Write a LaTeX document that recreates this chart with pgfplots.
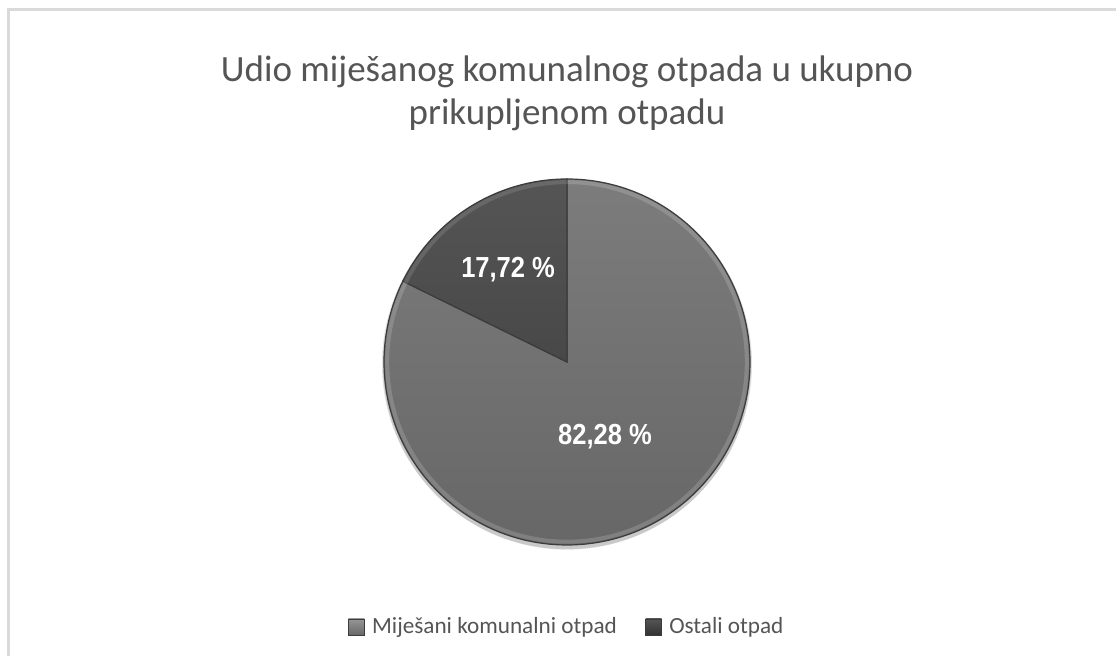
\documentclass[border=0pt]{standalone}
\usepackage{pgfplots}
\usepackage{pgfplotstable}
\pgfplotsset{compat=1.18}
\usepackage{fontspec}
\setmainfont{Carlito}
\newfontfamily\labfont[FakeStretch=0.88]{Liberation Sans}
\definecolor{titlegray}{HTML}{555555}
\definecolor{bigtop}{HTML}{7C7C7C}
\definecolor{bigbot}{HTML}{676767}
\definecolor{smalltop}{HTML}{555555}
\definecolor{smallbot}{HTML}{484848}
\definecolor{edgegray}{HTML}{3C3C3C}
\definecolor{framegray}{HTML}{DADADA}

\pgfplotstableread{
label value
Mijesani 82.28
Ostali 17.72
}\piedata

\begin{document}
\begin{tikzpicture}[x=0.5pt,y=0.5pt]
\path[use as bounding box] (0,0) rectangle (1116,656);
\fill[white] (0,0) rectangle (1116,656);
\draw[framegray, line width=1.5pt] (8.5,-20) -- (8.5,646) -- (1140,646);
% title
\node[align=center, text=titlegray, font=\fontsize{18.5}{21.5}\selectfont] at (567,563)
  {Udio miješanog komunalnog otpada u ukupno\\prikupljenom otpadu};
\coordinate (pc) at (567,294);
\pgfplotstablegetelem{0}{value}\of\piedata \pgfmathsetmacro\va{\pgfplotsretval}
\pgfplotstablegetelem{1}{value}\of\piedata \pgfmathsetmacro\vb{\pgfplotsretval}
\pgfmathsetmacro\angA{90-3.6*\va}
\pgfmathsetmacro\angB{\angA-3.6*\vb}
\begin{axis}[
  at={(pc)}, anchor=center,
  x=91.5pt, y=91.5pt,
  xmin=-1, xmax=1, ymin=-1, ymax=1,
  hide axis, clip=false,
  legend columns=2,
  legend style={at={(0.5,-0.224)}, anchor=center, draw=none, fill=none,
    font=\fontsize{11.6}{13}\selectfont, text=titlegray,
    /tikz/every odd column/.append style={column sep=2.5pt},
    /tikz/every even column/.append style={column sep=13pt},
    nodes={inner sep=1.2pt},
    inner sep=0pt},
]
% soft shadow
\fill[black, opacity=0.12] (axis cs:0,-0.012) circle [radius=92.5pt];
\fill[black, opacity=0.10] (axis cs:0,-0.02) circle [radius=92pt];
% slices
\path[top color=bigtop, bottom color=bigbot, draw=edgegray, line width=0.6pt]
  (axis cs:0,0) -- (axis cs:0,1) arc[start angle=90, end angle=\angA, radius=91.5pt] -- cycle;
\path[top color=smalltop, bottom color=smallbot, draw=edgegray, line width=0.6pt]
  (axis cs:0,0) -- (axis cs:{cos(\angA)},{sin(\angA)}) arc[start angle=\angA, end angle=\angB, radius=91.5pt] -- cycle;
% bevel highlight
\draw[white, opacity=0.16, line width=2pt] (axis cs:0,0.983) arc[start angle=90, end angle=\angA, radius=89.9pt];
\draw[white, opacity=0.12, line width=2pt] (axis cs:{0.983*cos(\angA)},{0.983*sin(\angA)}) arc[start angle=\angA, end angle=\angB, radius=89.9pt];
% labels
\node[text=white, font=\labfont\bfseries\fontsize{14.5}{14.5}\selectfont] at (axis cs:-0.322,0.503) {17,72 \%};
\node[text=white, font=\labfont\bfseries\fontsize{14.5}{14.5}\selectfont] at (axis cs:0.208,-0.410) {82,28 \%};
\addlegendimage{legend image code/.code={\path[top color=bigtop!80, bottom color=bigbot, draw=edgegray, line width=0.3pt] (0pt,-4pt) rectangle (8pt,4pt);}}
\addlegendentry{Miješani komunalni otpad}
\addlegendimage{legend image code/.code={\path[top color=smalltop, bottom color=smallbot!70!black, draw=edgegray, line width=0.3pt] (0pt,-4pt) rectangle (8pt,4pt);}}
\addlegendentry{Ostali otpad}
\end{axis}
\end{tikzpicture}
\end{document}
